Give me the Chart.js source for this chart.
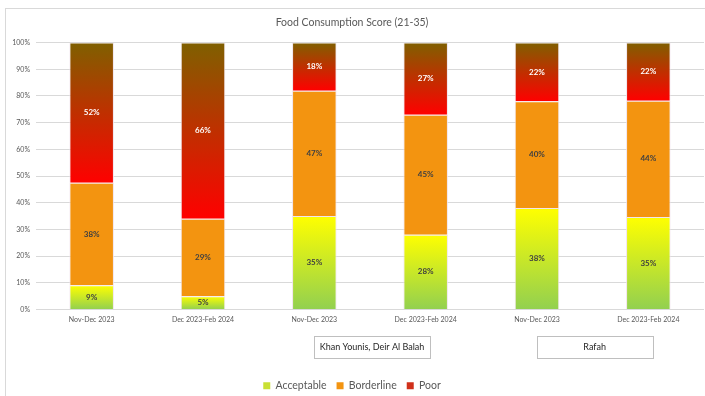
<!DOCTYPE html>
<html><head><meta charset="utf-8">
<script src="https://cdn.jsdelivr.net/npm/chart.js@4/dist/chart.umd.min.js"></script>
<style>html,body{margin:0;padding:0;background:#fff;} #wrap{width:705px;height:396px;position:relative} #c{display:block;}</style>
</head><body>
<div id="wrap"><canvas id="c" width="705" height="396"></canvas></div>
<script>
const categories = ["Nov-Dec 2023","Dec 2023-Feb 2024","Nov-Dec 2023","Dec 2023-Feb 2024","Nov-Dec 2023","Dec 2023-Feb 2024"];
const groupLabels = ["", "Khan Younis, Deir Al Balah", "Rafah"];
const seriesNames = ["Acceptable","Borderline","Poor"];
const acceptable = [9, 5, 35, 28, 38, 35];
const borderline = [38, 29, 47, 45, 40, 44];
const poor = [52, 66, 18, 27, 22, 22];
const yTickValues = [0,10,20,30,40,50,60,70,80,90,100];

const allSeries = [acceptable, borderline, poor];
// 100% stacked: each column is scaled to its own total
const totals = categories.map((_, i) => allSeries.reduce((s, a) => s + a[i], 0));
const share = (arr) => arr.map((v, i) => v / totals[i] * 100);
const shares = allSeries.map(share);

const FONT = "Lato, 'Open Sans', sans-serif";
const TXT = "#595959";

function segGradient(dsIndex, bottomColor, topColor){
  return function(ctx){
    const chart = ctx.chart, area = chart.chartArea;
    if(!area || ctx.type !== 'data' || !chart.scales.y) return bottomColor;
    const i = ctx.dataIndex;
    let start = 0; for(let k=0;k<dsIndex;k++) start += shares[k][i];
    const end = start + shares[dsIndex][i];
    const y = chart.scales.y;
    const y0 = y.getPixelForValue(start), y1 = y.getPixelForValue(end);
    if(!isFinite(y0)||!isFinite(y1)||y0===y1) return bottomColor;
    const g = chart.ctx.createLinearGradient(0,y0,0,y1);
    g.addColorStop(0,bottomColor); g.addColorStop(1,topColor);
    return g;
  };
}

const frame = {
  id:'frame',
  beforeDraw(chart){
    const c = chart.ctx; c.save();
    c.fillStyle='#fff'; c.fillRect(0,0,chart.width,chart.height);
    c.strokeStyle='#d9d9d9'; c.lineWidth=1;
    c.strokeRect(5.5,8.5,chart.width+10,chart.height+10);
    c.restore();
  }
};

const valueLabels = {
  id:'valueLabels',
  afterDatasetsDraw(chart){
    const c = chart.ctx; c.save();
    c.font = "bold 8px " + FONT;
    c.textAlign='center'; c.textBaseline='middle';
    chart.data.datasets.forEach((ds, di)=>{
      const meta = chart.getDatasetMeta(di);
      meta.data.forEach((bar, i)=>{
        const p = bar.getProps(['x','y','base'], true);
        c.fillStyle = di===2 ? '#ffffff' : '#404040';
        c.fillText(allSeries[di][i] + '%', p.x, (p.y + p.base)/2);
      });
    });
    c.restore();
  }
};

const groupBoxes = {
  id:'groupBoxes',
  afterDraw(chart){
    const x = chart.scales.x, y = chart.scales.y, c = chart.ctx; c.save();
    c.font = "9px " + FONT; c.textAlign='center'; c.textBaseline='middle';
    groupLabels.forEach((lab, g)=>{
      if(!lab) return;
      const cx = (x.getPixelForValue(2*g) + x.getPixelForValue(2*g+1))/2 + 2;
      const w = 116, h = 22, top = Math.round(y.bottom) + 26;
      c.fillStyle='#fff'; c.fillRect(cx-w/2, top, w, h);
      c.strokeStyle='#bfbfbf'; c.lineWidth=1;
      c.strokeRect(Math.round(cx-w/2)+0.5, top+0.5, w, h);
      c.fillStyle='#262626';
      c.fillText(lab, cx, top + h/2 + 0.5);
    });
    c.restore();
  }
};

const legendColors = ['#c9e034', '#f39410', '#d0301a'];

new Chart(document.getElementById('c'), {
  type:'bar',
  data:{
    labels: categories,
    datasets:[
      {label:seriesNames[0], data:shares[0], backgroundColor:segGradient(0,'#92d050','#ffff00')},
      {label:seriesNames[1], data:shares[1], backgroundColor:'#f39410'},
      {label:seriesNames[2], data:shares[2], backgroundColor:segGradient(2,'#ff0000','#7f6000')}
    ].map(d=>Object.assign(d,{borderWidth:1,borderColor:'rgba(240,225,235,0.9)',barPercentage:0.4,categoryPercentage:1}))
  },
  options:{
    responsive:false, animation:false,
    layout:{padding:{left:0,right:1,top:0,bottom:-5}},
    plugins:{
      title:{display:true,text:'Food Consumption Score (21-35)',color:TXT,font:{family:FONT,size:10.5,weight:'normal'},padding:{top:16,bottom:14}},
      legend:{position:'bottom',
        labels:{color:TXT,font:{family:FONT,size:10.5},boxWidth:7,boxHeight:7,padding:10,
          generateLabels:(chart)=>seriesNames.map((n,i)=>({text:n,fillStyle:legendColors[i],strokeStyle:legendColors[i],lineWidth:0,datasetIndex:i,fontColor:TXT}))}},
      tooltip:{enabled:false}
    },
    scales:{
      x:{stacked:true,grid:{display:false,drawTicks:false},border:{display:false},
        ticks:{color:TXT,font:{family:FONT,size:7},padding:6,maxRotation:0,autoSkip:false},
        afterFit:(s)=>{s.height=61;}},
      y:{stacked:true,min:0,max:100,
        grid:{color:'#d9d9d9',drawTicks:false},border:{display:false},
        afterBuildTicks:(s)=>{s.ticks=yTickValues.map(v=>({value:v}));},
        ticks:{color:TXT,font:{family:FONT,size:7},padding:6,callback:(v)=>v+'%'},
        afterFit:(s)=>{s.width=36;}}
    }
  },
  plugins:[frame, valueLabels, groupBoxes]
});
</script>
</body></html>
